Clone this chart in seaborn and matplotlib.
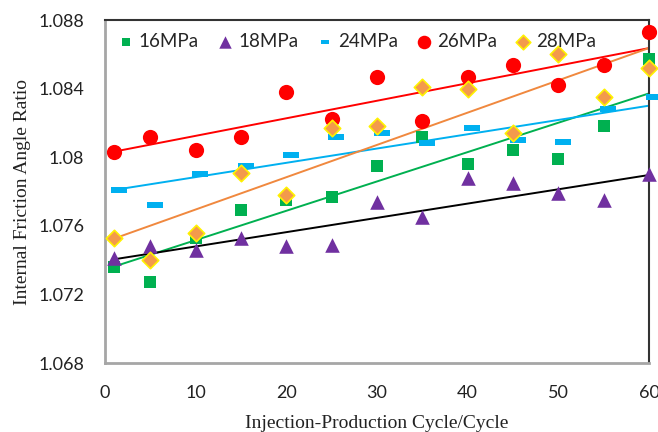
import numpy as np
import pandas as pd
import matplotlib
matplotlib.use("Agg")
import matplotlib.pyplot as plt
import seaborn as sns

cycles = [1, 5, 10, 15, 20, 25, 30, 35, 40, 45, 50, 55, 60]
cycles_24 = [1.5, 5.5, 10.5, 15.5, 20.5, 25.5, 30.5, 35.5, 40.5, 45.5, 50.5, 55.5, 60.5]
p16 = [1.0736, 1.0727, 1.0753, 1.0769, 1.0775, 1.0777, 1.0795, 1.0812, 1.0796, 1.0804, 1.0799, 1.0818, 1.0857]
p18 = [1.0741, 1.0748, 1.0746, 1.0753, 1.0748, 1.0749, 1.0774, 1.0765, 1.0788, 1.0785, 1.0779, 1.0775, 1.0790]
p24 = [1.0781, 1.0772, 1.0790, 1.0795, 1.0801, 1.0812, 1.0814, 1.0808, 1.0817, 1.0810, 1.0809, 1.0828, 1.0835]
p26 = [1.0803, 1.0812, 1.0804, 1.0812, 1.0838, 1.0822, 1.0847, 1.0821, 1.0847, 1.0854, 1.0842, 1.0854, 1.0873]
p28 = [1.0753, 1.0740, 1.0756, 1.0791, 1.0778, 1.0817, 1.0818, 1.0841, 1.0840, 1.0814, 1.0860, 1.0835, 1.0852]
labels = ["16MPa", "18MPa", "24MPa", "26MPa", "28MPa"]
x_ticks = [0, 10, 20, 30, 40, 50, 60]
y_ticks = [1.068, 1.072, 1.076, 1.080, 1.084, 1.088]
y_ticklabels = ["1.068", "1.072", "1.076", "1.08", "1.084", "1.088"]

sns.set_theme(style="white")
plt.rcParams["font.family"] = ["Lato", "DejaVu Sans"]

fig = plt.figure(figsize=(6.58, 4.32), dpi=100)
ax = fig.add_axes([0.1596, 0.1597, 0.8267, 0.794])

dash = [(-1, -0.36), (1, -0.36), (1, 0.36), (-1, 0.36), (-1, -0.36)]
series = [
    (cycles, p16, labels[0], "s", "#00B050", "#00B050", 80, "#00B050", 30),
    (cycles, p18, labels[1], "^", "#7030A0", "#7030A0", 110, "#000000", 80),
    (cycles_24, p24, labels[2], dash, "#00B0F0", "#00B0F0", 130, "#00B0F0", 40),
    (cycles, p26, labels[3], "o", "#FF0000", "#FF0000", 120, "#FF0000", 95),
    (cycles, p28, labels[4], "D", "#F39A4C", "#FFF200", 70, "#F0883E", 55),
]

for xs, ys, lab, mk, fc, ec, s, lc, ls in series:
    df = pd.DataFrame({"x": xs, "y": ys})
    sns.regplot(data=df, x="x", y="y", ax=ax, scatter=False, ci=None,
                truncate=True, color=lc, line_kws={"lw": 1.4, "zorder": 2})

for xs, ys, lab, mk, fc, ec, s, lc, ls in series:
    df = pd.DataFrame({"x": xs, "y": ys})
    sns.scatterplot(data=df, x="x", y="y", ax=ax, marker=mk, s=s,
                    color=fc, edgecolor=ec, linewidth=1.2 if lab == "28MPa" else 0,
                    label=lab, zorder=3, clip_on=False)

ax.set_xlim(0, 60)
ax.set_ylim(1.068, 1.088)
ax.set_xticks(x_ticks)
ax.set_yticks(y_ticks)
ax.set_yticklabels(y_ticklabels)
ax.tick_params(axis="both", labelsize=13, colors="#222222")
ax.tick_params(axis="x", direction="in", length=5, width=1, color="#a6a6a6", pad=16)
ax.tick_params(axis="y", direction="in", length=5, width=1, color="#a6a6a6", pad=15)
for side in ["left", "bottom"]:
    ax.spines[side].set_color("#a6a6a6")
    ax.spines[side].set_linewidth(2)
for side in ["top", "right"]:
    ax.spines[side].set_color("#333333")
    ax.spines[side].set_linewidth(1.5)

ax.set_xlabel("Injection-Production Cycle/Cycle", family="Liberation Serif",
              fontsize=14, labelpad=10, color="#222222")
ax.set_ylabel("Internal Friction Angle Ratio", family="Liberation Serif",
              fontsize=14, labelpad=5, color="#222222")

leg = ax.legend(loc="upper left", bbox_to_anchor=(0.024, 0.962), ncol=5, frameon=False,
                fontsize=13.5, handletextpad=0.3, columnspacing=1.0,
                borderaxespad=0, borderpad=0, handlelength=0.8)
for h, item in zip(leg.legend_handles, series):
    h.set_sizes([item[8]])

fig.savefig("out.png", dpi=100)
